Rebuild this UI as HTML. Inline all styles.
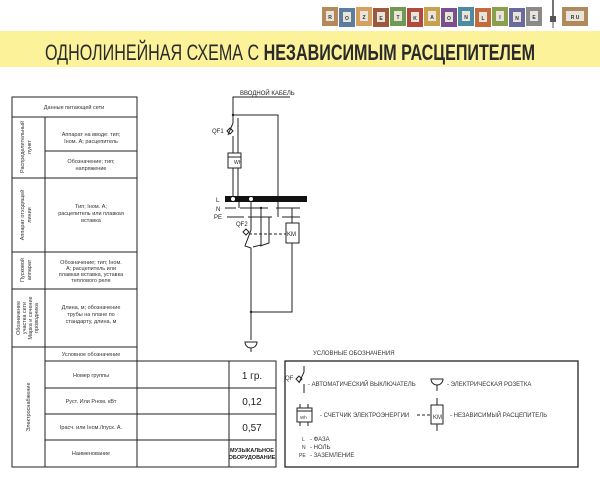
<!DOCTYPE html>
<html><head><meta charset="utf-8"><style>
body{margin:0;width:600px;height:479px;background:#fff;overflow:hidden;font-family:"Liberation Sans","DejaVu Sans",sans-serif}
</style></head><body>
<svg width="600" height="479" viewBox="0 0 600 479" xmlns="http://www.w3.org/2000/svg" font-family="Liberation Sans, DejaVu Sans, sans-serif">
<rect x="0" y="31" width="600" height="36" fill="#fbf29a"/>
<text x="290" y="60" text-anchor="middle" font-size="22" fill="#2a2a2a" textLength="490" lengthAdjust="spacingAndGlyphs">ОДНОЛИНЕЙНАЯ СХЕМА С <tspan font-weight="bold">НЕЗАВИСИМЫМ РАСЦЕПИТЕЛЕМ</tspan></text>
<g font-size="5" font-weight="bold" text-anchor="middle" fill="#333">
<rect x="322" y="7" width="16" height="19" fill="#b5895a"/><rect x="326" y="11" width="8" height="10" fill="#e8e4dc"/><text x="330" y="19">R</text>
<rect x="339" y="8" width="16" height="19" fill="#5c7d9c"/><rect x="343" y="12" width="8" height="10" fill="#e8e4dc"/><text x="347" y="20">O</text>
<rect x="356" y="7" width="16" height="19" fill="#d8a060"/><rect x="360" y="11" width="8" height="10" fill="#e8e4dc"/><text x="364" y="19">Z</text>
<rect x="373" y="8" width="16" height="19" fill="#9b5a3c"/><rect x="377" y="12" width="8" height="10" fill="#e8e4dc"/><text x="381" y="20">E</text>
<rect x="390" y="7" width="16" height="19" fill="#6f9a52"/><rect x="394" y="11" width="8" height="10" fill="#e8e4dc"/><text x="398" y="19">T</text>
<rect x="407" y="8" width="16" height="19" fill="#b14a3a"/><rect x="411" y="12" width="8" height="10" fill="#e8e4dc"/><text x="415" y="20">K</text>
<rect x="424" y="7" width="16" height="19" fill="#c8a24a"/><rect x="428" y="11" width="8" height="10" fill="#e8e4dc"/><text x="432" y="19">A</text>
<rect x="441" y="8" width="16" height="19" fill="#7a4f8e"/><rect x="445" y="12" width="8" height="10" fill="#e8e4dc"/><text x="449" y="20">O</text>
<rect x="458" y="7" width="16" height="19" fill="#4c8ca0"/><rect x="462" y="11" width="8" height="10" fill="#e8e4dc"/><text x="466" y="19">N</text>
<rect x="475" y="8" width="16" height="19" fill="#c36b3a"/><rect x="479" y="12" width="8" height="10" fill="#e8e4dc"/><text x="483" y="20">L</text>
<rect x="492" y="7" width="16" height="19" fill="#8aa04a"/><rect x="496" y="11" width="8" height="10" fill="#e8e4dc"/><text x="500" y="19">I</text>
<rect x="509" y="8" width="16" height="19" fill="#6a6a9e"/><rect x="513" y="12" width="8" height="10" fill="#e8e4dc"/><text x="517" y="20">N</text>
<rect x="526" y="7" width="16" height="19" fill="#8a8a8a"/><rect x="530" y="11" width="8" height="10" fill="#e8e4dc"/><text x="534" y="19">E</text>
<rect x="562" y="7" width="26" height="19" fill="#b08a5a"/><rect x="566" y="11" width="18" height="10" fill="#e8e4dc"/><text x="575" y="19">R U</text>
</g>
<line x1="553" y1="0" x2="553" y2="16" stroke="#444" stroke-width="1.5"/>
<rect x="550" y="16" width="6" height="6" fill="#555"/>
<line x1="553" y1="22" x2="553" y2="28" stroke="#555" stroke-width="1"/>

<g stroke="#222" stroke-width="1" fill="none">
<rect x="12" y="97" width="125" height="250"/>
<line x1="12" y1="117" x2="137" y2="117"/>
<line x1="45" y1="117" x2="45" y2="347"/>
<line x1="45" y1="151" x2="137" y2="151"/>
<line x1="12" y1="178" x2="137" y2="178"/>
<line x1="12" y1="252" x2="137" y2="252"/>
<line x1="12" y1="289" x2="137" y2="289"/>
<rect x="12" y="347" width="125" height="120"/>
<line x1="45" y1="347" x2="45" y2="467"/>
<line x1="45" y1="361" x2="137" y2="361"/>
<rect x="137" y="361" width="139" height="106"/>
<line x1="229" y1="361" x2="229" y2="467"/>
<line x1="45" y1="388" x2="276" y2="388"/>
<line x1="45" y1="414" x2="276" y2="414"/>
<line x1="45" y1="440" x2="276" y2="440"/>
<rect x="285" y="361" width="293" height="106" stroke-width="1.3"/>
</g>
<g font-size="5.5" fill="#333" text-anchor="middle">
<text x="74" y="109">Данные питающей сети</text>
<text x="91" y="136">Аппарат на вводе: тип;</text><text x="91" y="143">Iном. А; расцепитель</text>
<text x="91" y="163">Обозначение; тип;</text><text x="91" y="170">напряжение</text>
<text x="91" y="208">Тип; Iном. А;</text><text x="91" y="215">расцепитель или плавкая</text><text x="91" y="222">вставка</text>
<text x="91" y="264">Обозначение; тип; Iном.</text><text x="91" y="270">А; расцепитель или</text><text x="91" y="276">плавкая вставка, уставка</text><text x="91" y="282">теплового реле</text>
<text x="91" y="309">Длина, м; обозначение</text><text x="91" y="316">трубы на плане по</text><text x="91" y="323">стандарту, длина, м</text>
<text x="91" y="356">Условное обозначение</text>
<text x="91" y="377">Номер группы</text>
<text x="91" y="403">Руст. Или Рном. кВт</text>
<text x="91" y="429">Iрасч. или Iном./Iпуск. А.</text>
<text x="91" y="455">Наименование</text>
<g transform="translate(24,147) rotate(-90)"><text>Распределительный</text><text y="7">пункт</text></g>
<g transform="translate(24,215) rotate(-90)"><text>Аппарат отходящей</text><text y="7">линии</text></g>
<g transform="translate(24,270) rotate(-90)"><text>Пусковой</text><text y="7">аппарат</text></g>
<g transform="translate(20,318) rotate(-90)"><text>Обозначение</text><text y="6">участка сети</text><text y="12">Марка и сечение</text><text y="18">проводника</text></g>
<g transform="translate(30,407) rotate(-90)"><text>Электроснабжение</text></g>
</g>
<g font-size="10" fill="#222" text-anchor="middle">
<text x="252" y="379">1 гр.</text><text x="252" y="405">0,12</text><text x="252" y="431">0,57</text>
</g>
<text x="252" y="452" font-size="5.5" font-weight="bold" text-anchor="middle" fill="#222">МУЗЫКАЛЬНОЕ</text>
<text x="252" y="459" font-size="5.5" font-weight="bold" text-anchor="middle" fill="#222">ОБОРУДОВАНИЕ</text>

<g stroke="#222" stroke-width="1" fill="none">
<polyline points="290,97 233,97 233,123"/>
<polyline points="233,115 278,115 278,217"/>
<line x1="233" y1="123" x2="228" y2="135"/>
<line x1="233" y1="136" x2="233" y2="153"/>
<line x1="238" y1="118" x2="238" y2="196"/>
<rect x="228" y="153" width="13" height="15" fill="#fff"/>
<line x1="228" y1="157" x2="241" y2="157"/>
<line x1="233" y1="168" x2="233" y2="196"/>
<path d="M227,131 l3,-3 l3,3 l-3,3z"/>
<line x1="225" y1="208" x2="236" y2="208"/><line x1="240" y1="208" x2="268" y2="208"/><line x1="276" y1="208" x2="300" y2="208"/>
<line x1="227" y1="217" x2="244" y2="217"/><line x1="248" y1="217" x2="272" y2="217"/><line x1="282" y1="217" x2="300" y2="217"/>
<line x1="239" y1="201" x2="239" y2="208"/>
<polyline points="251,199 251,230 245,246 251,248 251,340"/>
<polyline points="261,208 261,245 253,247"/>
<polyline points="269,217 269,243 260,246"/>
<path d="M243,232 l3,-3 l3,3 l-3,3z"/>
<line x1="249" y1="234" x2="286" y2="234" stroke-dasharray="3,2"/>
<line x1="292" y1="208" x2="292" y2="223"/>
<rect x="286" y="223" width="13" height="20" fill="#fff"/>
<polyline points="292,243 292,312 251,312"/>
<path d="M245,342 h12 a6,6 0 0 1 -12,0z"/>
<line x1="251" y1="348" x2="251" y2="352"/>
</g>
<rect x="225" y="196" width="82" height="6" fill="#111"/>
<circle cx="233" cy="199" r="2" fill="#fff"/><circle cx="251" cy="199" r="2" fill="#fff"/>
<g fill="#222"><circle cx="233" cy="115" r="1.2"/><circle cx="251" cy="312" r="1.2"/><circle cx="261" cy="208" r="1.2"/></g>
<g font-size="6" fill="#222">
<text x="240" y="95">ВВОДНОЙ КАБЕЛЬ</text>
<text x="212" y="133">QF1</text><text x="234" y="164" font-size="5">Wh</text>
<text x="216" y="202">L</text><text x="216" y="211">N</text><text x="214" y="219">PE</text>
<text x="236" y="226">QF2</text><text x="287" y="236">KM</text>
</g>
<g font-size="6" fill="#333">
<text x="313" y="355">УСЛОВНЫЕ ОБОЗНАЧЕНИЯ</text>
<text x="285" y="380">QF</text>
<text x="308" y="386">- АВТОМАТИЧЕСКИЙ ВЫКЛЮЧАТЕЛЬ</text>
<text x="447" y="386">- ЭЛЕКТРИЧЕСКАЯ РОЗЕТКА</text>
<text x="320" y="417">- СЧЕТЧИК ЭЛЕКТРОЭНЕРГИИ</text>
<text x="450" y="417">- НЕЗАВИСИМЫЙ РАСЦЕПИТЕЛЬ</text>
<text x="302" y="441" font-size="5">L</text><text x="310" y="441">- ФАЗА</text>
<text x="302" y="449" font-size="5">N</text><text x="310" y="449">- НОЛЬ</text>
<text x="299" y="457" font-size="5">PE</text><text x="310" y="457">- ЗАЗЕМЛЕНИЕ</text>
<text x="300" y="419" font-size="4.5">Wh</text><text x="433" y="419">KM</text>
</g>
<g stroke="#222" fill="none">
<line x1="304" y1="366" x2="304" y2="372"/><line x1="304" y1="372" x2="299" y2="383"/><line x1="304" y1="384" x2="304" y2="393"/>
<path d="M296,379 l3,-3 l3,3 l-3,3z"/>
<rect x="297" y="408" width="15" height="14"/><line x1="297" y1="411" x2="312" y2="411"/>
<line x1="300" y1="404" x2="300" y2="408"/><line x1="308" y1="404" x2="308" y2="408"/><line x1="300" y1="422" x2="300" y2="426"/><line x1="308" y1="422" x2="308" y2="426"/>
<path d="M431,379 h12 a6,6 0 0 1 -12,0z"/><line x1="437" y1="385" x2="437" y2="391"/>
<line x1="417" y1="415" x2="431" y2="415" stroke-dasharray="3,2"/>
<rect x="431" y="405" width="12" height="19"/>
<line x1="437" y1="398" x2="437" y2="405"/><line x1="437" y1="424" x2="437" y2="431"/>
</g>
</svg>
</body></html>
